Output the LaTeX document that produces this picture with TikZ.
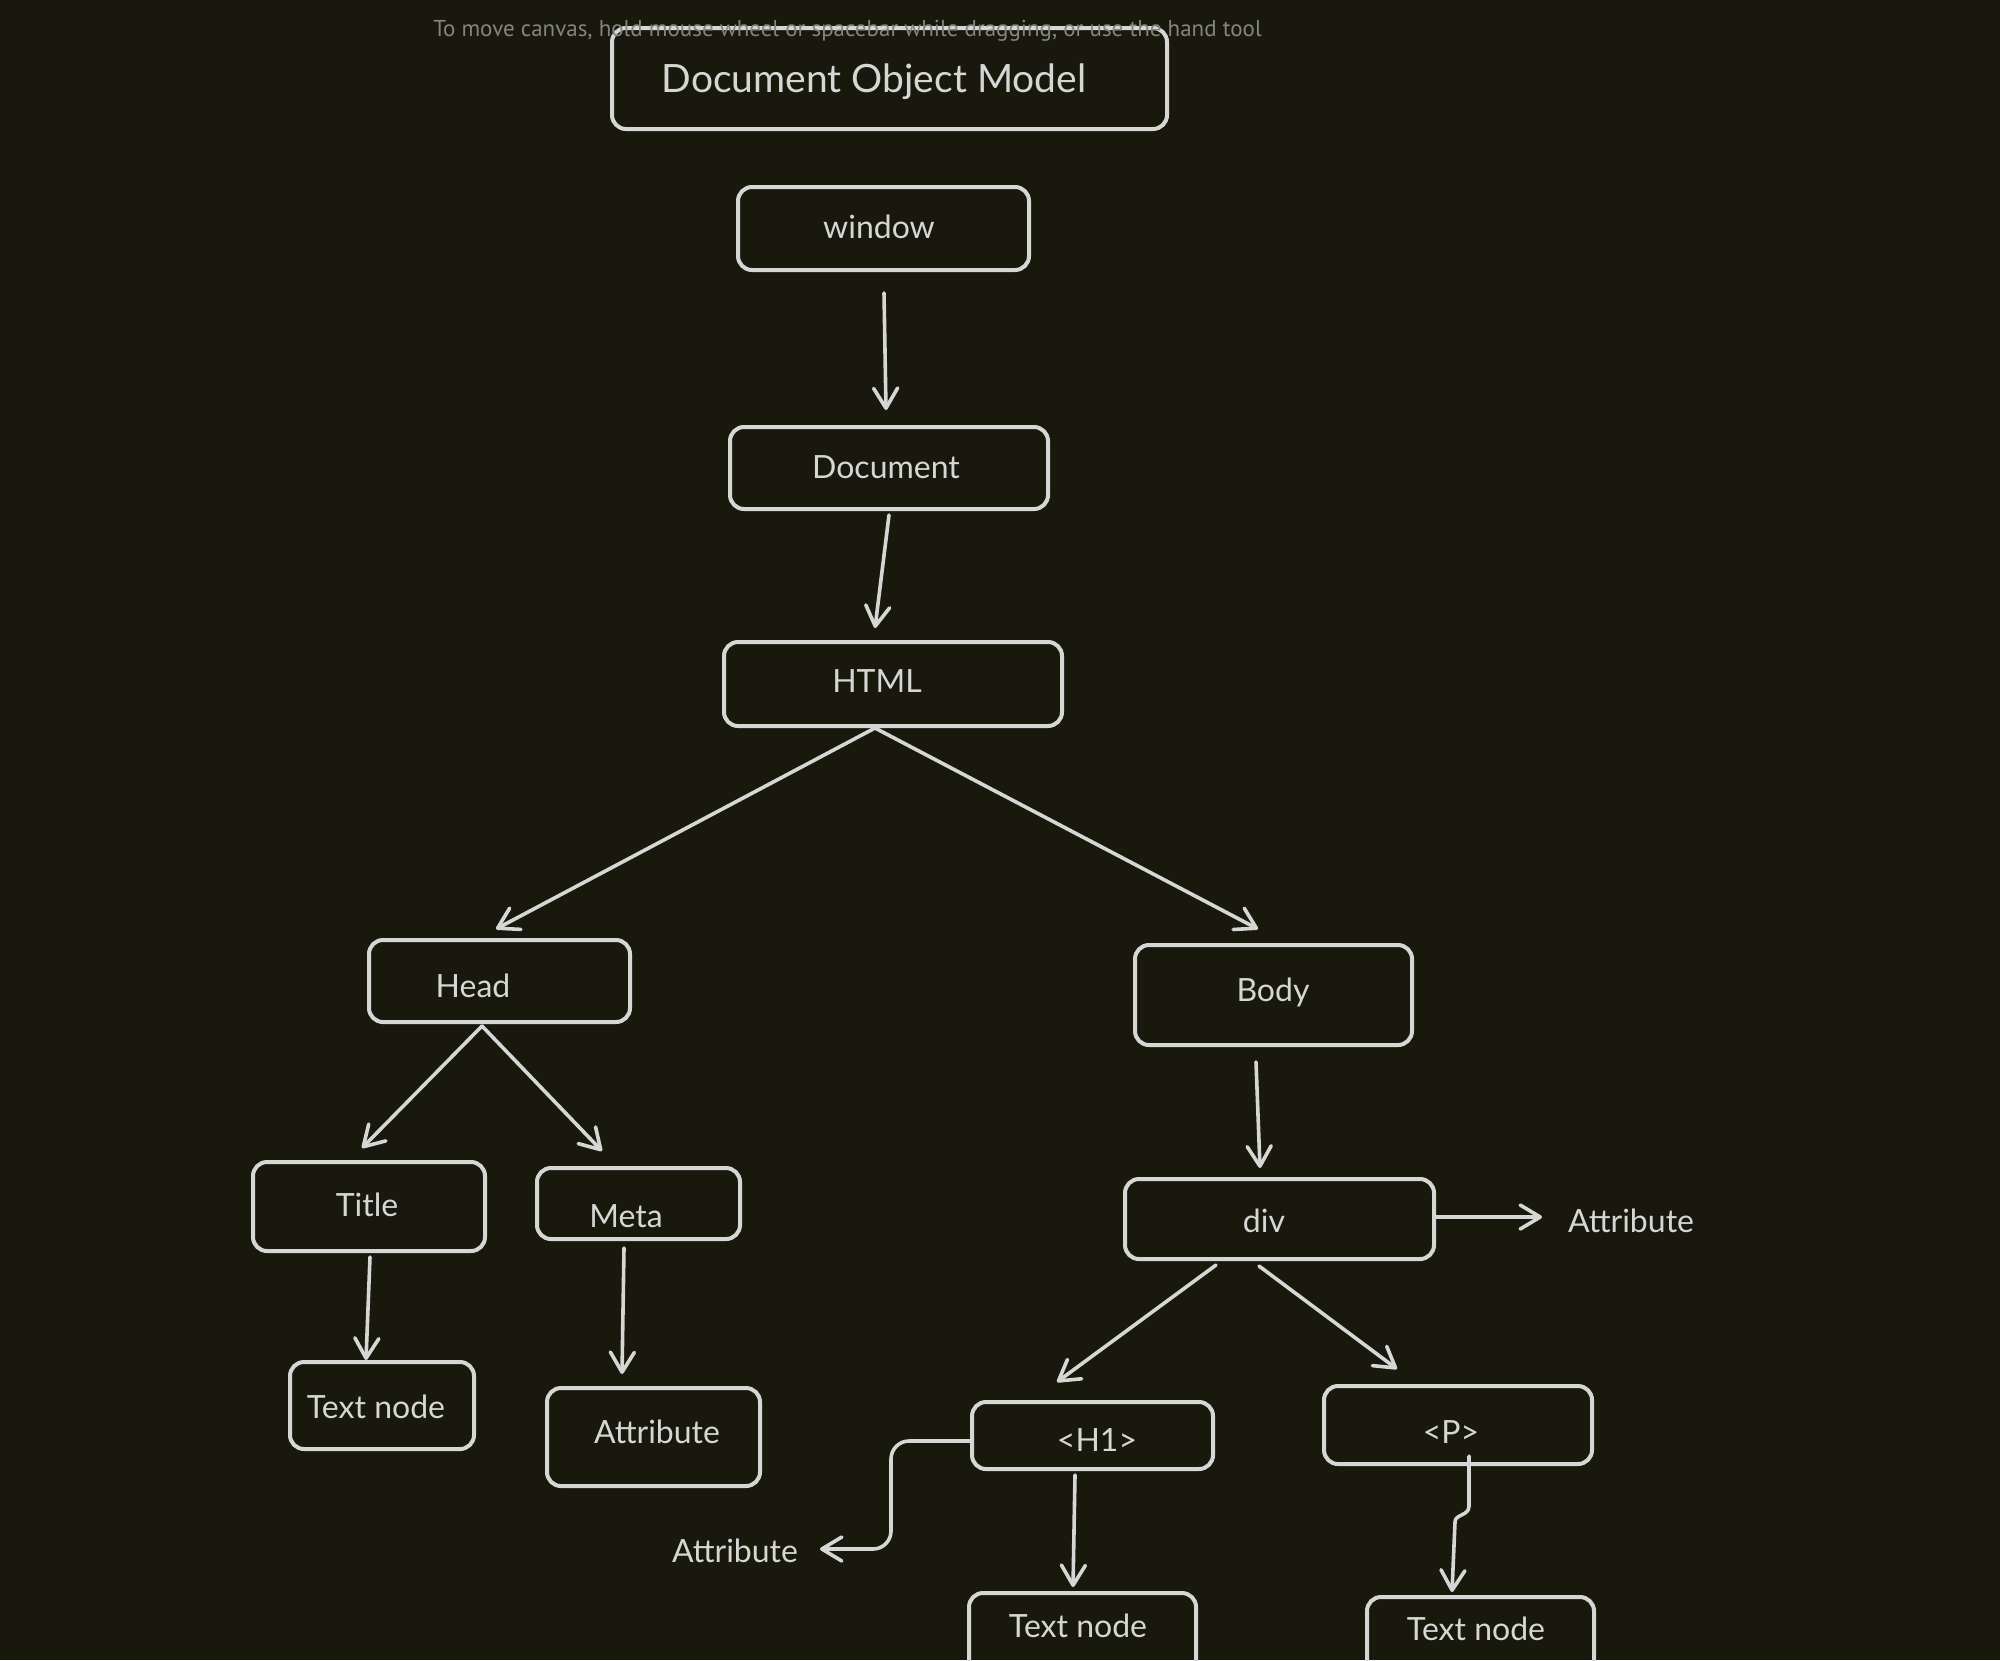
\documentclass[tikz,border=0pt]{standalone}
\usepackage{fontspec}
\setmainfont{Lato}
\newfontfamily\hintfont{PT Sans}
\usetikzlibrary{arrows.meta,calc}

\definecolor{bg}{RGB}{25,24,12}
\definecolor{ink}{RGB}{214,214,212}
\definecolor{hint}{RGB}{132,132,128}

\tikzset{
  box/.style 2 args={draw=ink, line width=2pt, rounded corners=7pt,
    minimum width=#1*0.5pt, minimum height=#2*0.5pt, inner sep=0pt},
  lbl/.style={text=ink, font=\fontsize{16}{18}\selectfont, inner sep=0pt},
  ttl/.style={text=ink, font=\fontsize{19.5}{22}\selectfont, inner sep=0pt},
  arr/.style={draw=ink, line width=1.8pt, line cap=round, line join=round,
    -{Straight Barb[length=10pt,width=12pt,round]}},
}

\begin{document}
\begin{tikzpicture}[x=0.5pt,y=-0.5pt]
  \fill[bg] (0,0) rectangle (2000,1660);
  \useasboundingbox (0,0) rectangle (2000,1660);
  \clip (0,0) rectangle (2000,1660);

  % boxes
  \node[box={555}{101}] (titlebox) at (889.5,78.5) {};
  \node[box={291}{83}]  (window)   at (883.5,228.5) {};
  \node[box={318}{82}]  (doc)      at (889,468) {};
  \node[box={338}{84}]  (html)     at (893,684) {};
  \node[box={261}{82}]  (head)     at (499.5,981) {};
  \node[box={277}{100}] (body)     at (1273.5,995) {};
  \node[box={232}{89}]  (title)    at (369,1206.5) {};
  \node[box={203}{71}]  (meta)     at (638.5,1203.5) {};
  \node[box={184}{87}]  (txtA)     at (382,1405.5) {};
  \node[box={213}{98}]  (attrA)    at (653.5,1437) {};
  \node[box={309}{80}]  (div)      at (1279.5,1219) {};
  \node[box={241}{67}]  (hone)     at (1092.5,1435.5) {};
  \node[box={268}{78}]  (para)     at (1458,1425) {};
  \node[box={227}{97}]  (txtB)     at (1082.5,1641.5) {};
  \node[box={227}{93}]  (txtC)     at (1480.5,1643.5) {};

  % labels
  \node[ttl] (titleT)  at (874,82)    {Document Object Model};
  \node[lbl] (windowT) at (879,227)   {window};
  \node[lbl] (docT)    at (886,467)   {Document};
  \node[lbl] (htmlT)   at (877,681)   {HTML};
  \node[lbl] (headT)   at (473,986)   {Head};
  \node[lbl] (bodyT)   at (1273,992)  {Body};
  \node[lbl] (titleL)  at (367,1205)  {Title};
  \node[lbl] (metaT)   at (626,1216)  {Meta};
  \node[lbl] (txtAT)   at (376,1407)  {Text node};
  \node[lbl] (attrAT)  at (657,1432)  {Attribute};
  \node[lbl] (divT)    at (1264,1221) {div};
  \node[lbl] (attrDivT) at (1631,1221) {Attribute};
  \node[lbl] (honeT)   at (1097,1440) {<H1>};
  \node[lbl] (paraT)   at (1451,1432) {<P>};
  \node[lbl] (attrHT)  at (735,1551)  {Attribute};
  \node[lbl] (txtBT)   at (1078,1626) {Text node};
  \node[lbl] (txtCT)   at (1476,1629) {Text node};

  % connectors
  \draw[arr] ($(window.south)+(0.5,21)$) -- ($(doc.north)+(-3,-15)$);
  \draw[arr] ($(doc.south)+(0,4)$) -- ($(html.north)+(-18,-12)$);
  \draw[arr] ($(html.south)+(-18,0)$) -- ($(head.north)+(-3.5,-9)$);
  \draw[arr] ($(html.south)+(-18,0)$) -- ($(body.north)+(-15.5,-14)$);
  \draw[arr] ($(head.south)+(-17.5,2)$) -- ($(title.north)+(-7,-12)$);
  \draw[arr] ($(head.south)+(-17.5,2)$) -- ($(meta.north)+(-36.5,-15)$);
  \draw[arr] ($(title.south)+(1,4)$) -- ($(txtA.north)+(-16,0)$);
  \draw[arr] ($(meta.south)+(-14.5,7)$) -- ($(attrA.north)+(-31.5,-12)$);
  \draw[arr] ($(body.south)+(-17.5,15)$) -- ($(div.north)+(-19.5,-9)$);
  \draw[arr] ($(div.east)+(0,-2)$) -- ($(attrDivT.center)+(-89,-4)$);
  \draw[arr] ($(div.south)+(-63.5,4)$) -- ($(hone.north)+(-35.5,-18)$);
  \draw[arr] ($(div.south)+(-20.5,5)$) -- ($(para.north)+(-61,-15)$);
  \draw[arr, rounded corners=9pt] ($(hone.west)+(0,5.5)$) -- ++(-79,0) -- ++(0,108)
        -- ($(attrHT.center)+(85,-2)$);
  \draw[arr] ($(hone.south)+(-17.5,4)$) -- ($(txtB.north)+(-9.5,-4)$);
  \draw[arr] ($(para.south)+(11,-10)$) -- ++(0,50)
        .. controls +(0,10) and +(0,-8) .. ++(-14,16)
        -- ($(txtC.north)+(-28.5,-3)$);

  % canvas hint on top
  \node[text=hint, font=\hintfont\fontsize{11.5}{13}\selectfont, inner sep=0pt] (hintT)
    at (847.5,31) {To move canvas, hold mouse wheel or spacebar while dragging, or use the hand tool};
\end{tikzpicture}
\end{document}
